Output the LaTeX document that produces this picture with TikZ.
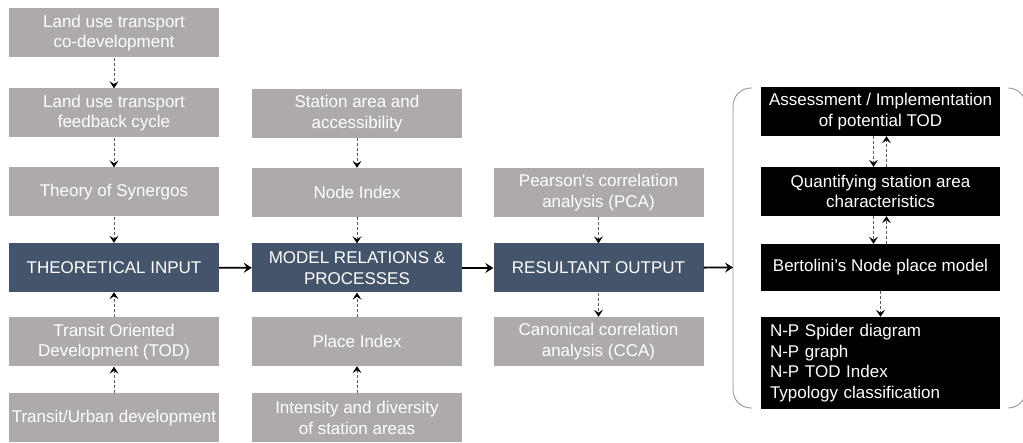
\documentclass[tikz,border=0pt]{standalone}
\usepackage{fontspec}
\setmainfont{Liberation Sans}
\usetikzlibrary{arrows.meta}
\definecolor{boxgrey}{HTML}{AEAAAA}
\definecolor{boxblue}{HTML}{44546A}
\begin{document}
\begin{tikzpicture}[x=1pt, y=-1pt,
  main node/.style={rectangle,minimum width=210pt,minimum height=49pt,inner sep=2pt,align=center,text=white,font=\fontsize{17}{20.5}\selectfont},
  grey node/.style={main node,fill=boxgrey},
  blue node/.style={main node,fill=boxblue},
  black node/.style={main node,fill=black,minimum width=239pt},
  dot line/.style={-{Stealth[length=7pt,width=9pt,inset=3pt,black]},densely dashed,line width=0.6pt,draw=black!65},
  main line/.style={-{Stealth[length=8pt,width=10pt,inset=3pt]},line width=1.8pt}]
\useasboundingbox (0,0) rectangle (1023,443);
% theory column
\node [grey node](t1) at (114,33) {Land use transport\\co-development};
\node [grey node](t2) at (114,113) {Land use transport\\feedback cycle};
\node [grey node](t3) at (114,192) {Theory of Synergos};
\node [blue node](t4) at (114,267.5) {THEORETICAL INPUT};
\node [grey node](t5) at (114,342) {Transit Oriented\\Development (TOD)};
\node [grey node](t6) at (114,418) {Transit/Urban development};
% model column
\node [grey node](m1) at (357,113.5) {Station area and\\accessibility};
\node [grey node](m2) at (357,192.5) {Node Index};
\node [blue node](m3) at (357,268) {MODEL RELATIONS \&\\PROCESSES};
\node [grey node](m4) at (357,341.5) {Place Index};
\node [grey node](m5) at (357,418) {Intensity and diversity\\of station areas};
% output column
\node [grey node](r1) at (598.5,192.5) {Pearson\textquotesingle s correlation\\analysis (PCA)};
\node [blue node](r2) at (598.5,268) {RESULTANT OUTPUT};
\node [grey node](r3) at (598.5,341.5) {Canonical correlation\\analysis (CCA)};
% black column
\node [black node](b1) at (880.5,111.5) {Assessment / Implementation\\of potential TOD};
\node [black node](b2) at (880.5,191.5) {Quantifying station area\\characteristics};
\node [black node,minimum height=47pt](b3) at (880.5,267.5) {Bertolini’s Node place model};
\node [black node,minimum height=92pt,align=left,text width=221pt](b4) at (880.5,363) {N-P Spider diagram\\N-P graph\\N-P TOD Index\\Typology classification};
\coordinate (brk) at (733,267.5);
% bracket
\draw [draw=black!45,line width=0.8pt,rounded corners=18pt] (752,88) -- (733,88) -- (733,408) -- (752,408);
\draw [draw=black!45,line width=0.8pt,rounded corners=18pt] (1008,88) -- (1026,88) -- (1026,408) -- (1008,408);
\path [dot line]
	(t1) edge (t2)
	(t2) edge (t3)
	(t3) edge (t4)
	(t5) edge (t4)
	(t6) edge (t5)
	(m1) edge (m2)
	(m2) edge (m3)
	(m4) edge (m3)
	(m5) edge (m4)
	(r1) edge (r2)
	(r2) edge (r3)
	([xshift=-7pt]b1.south) edge ([xshift=-7pt]b2.north)
	([xshift=6pt]b2.north) edge ([xshift=6pt]b1.south)
	([xshift=-7pt]b2.south) edge ([xshift=-7pt]b3.north)
	([xshift=6pt]b3.north) edge ([xshift=6pt]b2.south)
	(b3) edge (b4)
	;
\path [main line]
	(t4) edge (m3)
	(m3) edge (r2)
	(r2) edge (brk)
	;
\end{tikzpicture}
\end{document}
